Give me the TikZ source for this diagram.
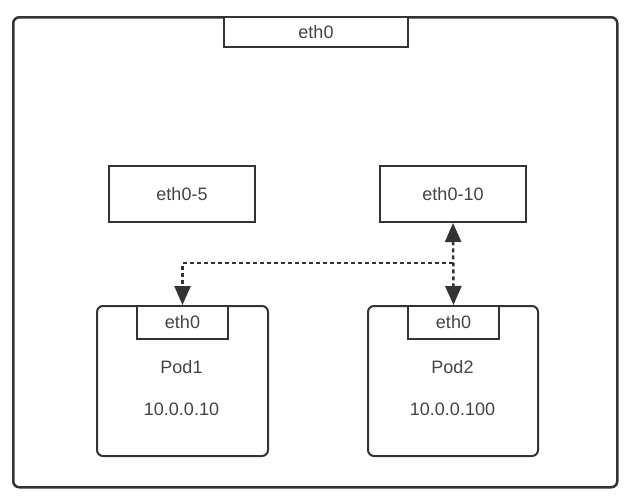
\documentclass[tikz,border=0pt]{standalone}
\usepackage{fontspec}
\setmainfont{Liberation Sans}
\usetikzlibrary{arrows.meta}
\definecolor{ln}{HTML}{333333}
\definecolor{tx}{HTML}{444444}
\begin{document}
\begin{tikzpicture}[x=1pt,y=-1pt,
  box/.style={draw=ln,line width=2pt,fill=white,inner sep=0pt,anchor=north west,text=tx,font=\fontsize{18}{20}\selectfont},
  podbox/.style={draw=ln,line width=2pt,rounded corners=6pt,inner sep=0pt,anchor=north west},
  lbl/.style={text=tx,font=\fontsize{18}{20}\selectfont,inner sep=0pt},
  link/.style={draw=ln,line width=2.5pt,dash pattern=on 4pt off 3pt},
  ahead/.tip={Triangle[length=19pt,width=16pt]},
  tip/.style={-ahead}]
\useasboundingbox (0,0) rectangle (632,501);
\node[podbox,line width=2.5pt,minimum width=604pt,minimum height=470pt] (host) at (12,16) {};
\node[box,minimum width=184pt,minimum height=30pt] (heth) at (223,16) {eth0};
\node[box,minimum width=146pt,minimum height=56pt] (e5) at (108,165) {eth0-5};
\node[box,minimum width=146pt,minimum height=56pt] (e10) at (379,165) {eth0-10};
\node[podbox,minimum width=171pt,minimum height=150pt] (pod1) at (96,305) {};
\node[podbox,minimum width=170pt,minimum height=150pt] (pod2) at (367,305) {};
\node[box,minimum width=91pt,minimum height=33pt] (p1eth) at (136,305) {eth0};
\node[box,minimum width=91pt,minimum height=33pt] (p2eth) at (407,305) {eth0};
\node[lbl] (p1name) at (181.5,367) {Pod1};
\node[lbl] (p1ip) at (181.5,409) {10.0.0.10};
\node[lbl] (p2name) at (452.5,367) {Pod2};
\node[lbl] (p2ip) at (452.5,409) {10.0.0.100};
\coordinate (j) at (e10.south |- 0,263);
\draw[link,ahead-ahead] (e10.south) -- (p2eth.north);
\draw[link,tip] (j) -- (p1eth.north |- j) -- (p1eth.north);
\end{tikzpicture}
\end{document}
